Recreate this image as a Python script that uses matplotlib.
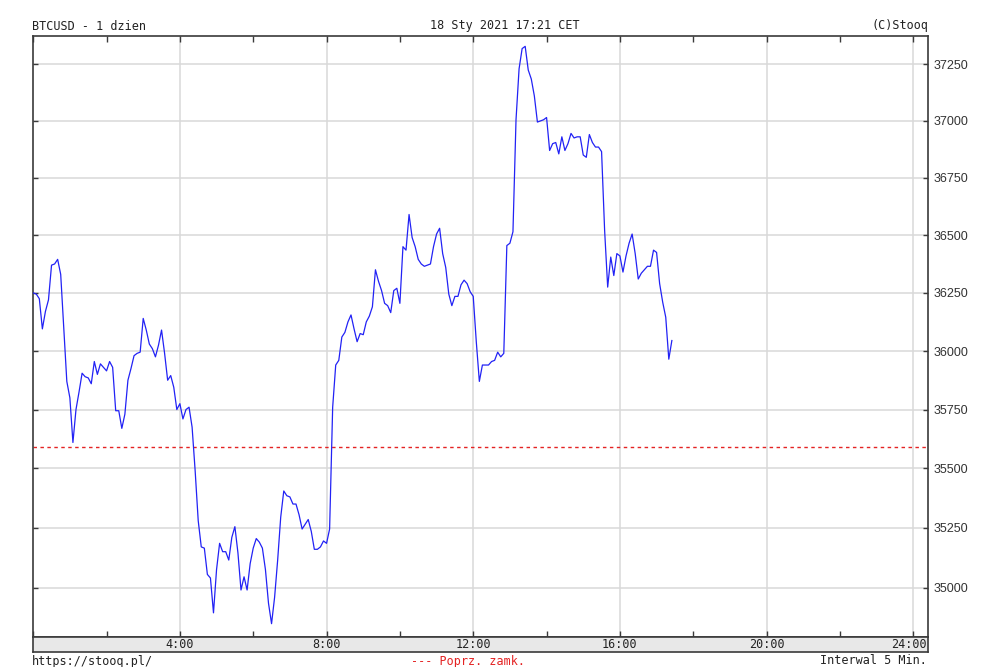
import matplotlib
matplotlib.use('Agg')
import matplotlib.pyplot as plt
from matplotlib.ticker import NullLocator, NullFormatter

# BTCUSD intraday, 5 minute closes from 00:00
interval_min = 5
close = [
    36250, 36245, 36225, 36095, 36170, 36220, 36370, 36375, 36395, 36330,
    36100, 35870, 35800, 35610, 35750, 35825, 35905, 35890, 35885, 35860,
    35955, 35900, 35945, 35930, 35915, 35955, 35930, 35745, 35745, 35670,
    35730, 35875, 35925, 35980, 35990, 35995, 36140, 36090, 36030, 36010,
    35975, 36025, 36090, 35990, 35875, 35895, 35845, 35750, 35775, 35710,
    35750, 35760, 35675, 35490, 35280, 35170, 35165, 35055, 35040, 34895,
    35075, 35185, 35150, 35150, 35115, 35210, 35255, 35145, 34990, 35045,
    34990, 35100, 35165, 35205, 35190, 35165, 35075, 34935, 34850, 34960,
    35115, 35295, 35405, 35385, 35380, 35350, 35350, 35305, 35245, 35265,
    35285, 35235, 35160, 35160, 35170, 35195, 35185, 35245, 35760, 35940,
    35960, 36060, 36080, 36125, 36155, 36095, 36040, 36075, 36070, 36125,
    36150, 36190, 36350, 36300, 36260, 36205, 36195, 36165, 36260, 36270,
    36205, 36450, 36435, 36590, 36490, 36450, 36395, 36375, 36365, 36370,
    36375, 36450, 36505, 36530, 36420, 36360, 36245, 36195, 36235, 36235,
    36285, 36305, 36290, 36255, 36235, 36040, 35870, 35940, 35940, 35940,
    35955, 35960, 35995, 35975, 35990, 36455, 36465, 36515, 37005, 37230,
    37320, 37330, 37225, 37185, 37110, 36995, 37000, 37005, 37015, 36870,
    36900, 36905, 36855, 36930, 36870, 36900, 36945, 36925, 36930, 36930,
    36850, 36840, 36940, 36905, 36885, 36885, 36865, 36520, 36275, 36405,
    36325, 36420, 36410, 36340, 36410, 36465, 36505, 36420, 36310, 36335,
    36350, 36365, 36365, 36435, 36425, 36290, 36210, 36145, 35965, 36045,
]
prev_close = 35589

yticks = [35000, 35250, 35500, 35750, 36000, 36250, 36500, 36750, 37000, 37250]
hour_ticks = list(range(0, 25, 2))
hour_grid = [4, 8, 12, 16, 20, 24]
hour_labels = ['4:00', '8:00', '12:00', '16:00', '20:00', '24:00']

W, H = 1000, 667
mono = 'DejaVu Sans Mono'
txt = '#222222'
red = '#e42323'
grid_c = '#d9d9d9'
frame_c = '#3a3a3a'


def box(x0, y0, x1, y1):
    # pixel box -> figure fraction rect
    return [x0 / W, 1 - y1 / H, (x1 - x0) / W, (y1 - y0) / H]


fig = plt.figure(figsize=(W / 100, H / 100), dpi=100)
ax = fig.add_axes(box(33.2, 36, 928.3, 636.7))

times = [i * interval_min / 60 for i in range(len(close))]
ax.plot(times, close, color='#2222f5', lw=0.9, zorder=3)
ax.axhline(prev_close, color=red, lw=1.0, ls=(0, (2.5, 2.5)), zorder=2)

ax.set_yscale('log')
ax.set_ylim(34796, 37376)
ax.set_xlim(0, 24.41)

ax.set_yticks(yticks, labels=[str(v) for v in yticks])
ax.yaxis.set_minor_locator(NullLocator())
ax.yaxis.set_minor_formatter(NullFormatter())
ax.set_xticks(hour_ticks)
ax.tick_params(axis='x', direction='in', length=4, width=1, color=frame_c,
               top=True, bottom=True, labelbottom=False)
ax.tick_params(axis='y', direction='in', length=3.6, width=1, color=frame_c,
               left=True, right=True, labelleft=False, labelright=True,
               labelsize=9, labelcolor='#333333', pad=3.5)
for lab in ax.get_yticklabels():
    lab.set_family('Liberation Sans')

ax.grid(axis='y', color=grid_c, lw=1.1)
for h in hour_grid:
    ax.axvline(h, color=grid_c, lw=1.1, zorder=0)
ax.set_axisbelow(True)
for s in ax.spines.values():
    s.set_color(frame_c)
    s.set_linewidth(1.2)

# grey time band under the plot
bx = fig.add_axes(box(33.2, 636.7, 928.3, 651.7))
bx.set_facecolor('#e8e8e8')
bx.set_xlim(ax.get_xlim())
bx.set_ylim(0, 1)
bx.set_xticks([])
bx.set_yticks([])
for s in bx.spines.values():
    s.set_color(frame_c)
    s.set_linewidth(1.2)
for h, lab in zip(hour_grid, hour_labels):
    if h == 24:
        bx.text(24.38, 0.45, lab, ha='right', va='center', family=mono, fontsize=8.5, color=txt)
    else:
        bx.text(h, 0.45, lab, ha='center', va='center', family=mono, fontsize=8.5, color=txt)

# header / footer
fig.text(32.3 / W, 1 - 26 / H, 'BTCUSD - 1 dzien', ha='left', va='center', family=mono, fontsize=8.5, color=txt)
fig.text(505 / W, 1 - 26 / H, '18 Sty 2021 17:21 CET', ha='center', va='center', family=mono, fontsize=8.5, color=txt)
fig.text(928 / W, 1 - 26 / H, '(C)Stooq', ha='right', va='center', family=mono, fontsize=8.5, color=txt)
fig.text(32.3 / W, 1 - 661 / H, 'https://stooq.pl/', ha='left', va='center', family=mono, fontsize=8.5, color=txt)
fig.text(468 / W, 1 - 661 / H, '--- Poprz. zamk.', ha='center', va='center', family=mono, fontsize=8.5, color=red)
fig.text(927 / W, 1 - 661 / H, 'Interwal 5 Min.', ha='right', va='center', family=mono, fontsize=8.5, color=txt)

fig.savefig('out.png', dpi=100, facecolor='white')
